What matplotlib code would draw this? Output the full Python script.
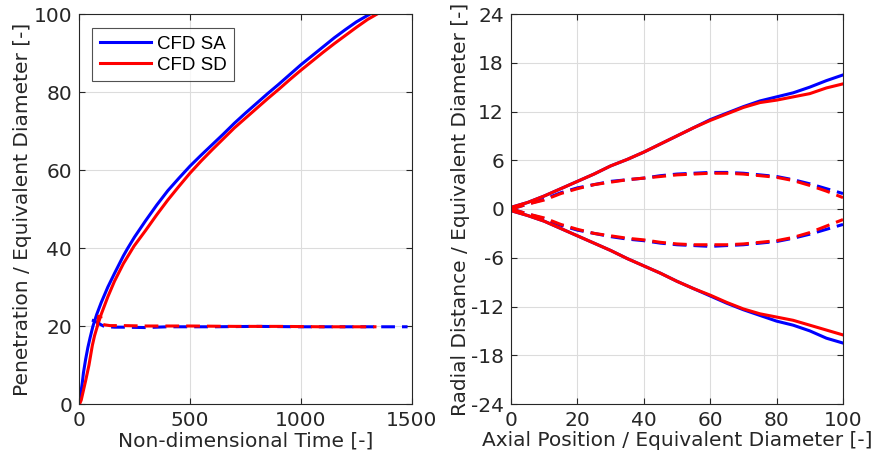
import matplotlib
matplotlib.use("Agg")
import matplotlib.pyplot as plt

# ---------------- data: left panel (penetration vs time) ----------------
t_sa = [0, 5, 10, 15, 20, 30, 40, 50, 63, 80, 100, 130, 160, 200, 218, 250, 300, 350, 400, 450, 500,
        550, 600, 650, 700, 750, 800, 850, 900, 950, 1000, 1050, 1100, 1150, 1200, 1250, 1311]
pen_sa = [0, 1.5, 3.5, 5.5, 8, 11.5, 14.5, 17, 20, 23, 26, 30, 33.5, 38, 39.8, 42.8, 47, 51, 54.7, 57.9, 61,
          63.8, 66.5, 69.2, 72, 74.6, 77.1, 79.6, 82, 84.5, 87, 89.3, 91.6, 93.9, 96, 98, 100]
t_sd = [0, 5, 10, 20, 30, 45, 60, 70, 83, 100, 130, 160, 200, 248, 300, 350, 400, 450, 500,
        550, 600, 650, 700, 750, 800, 850, 900, 950, 1000, 1050, 1100, 1150, 1200, 1250, 1300, 1343]
pen_sd = [0, 0.3, 1, 3.5, 6, 10, 15, 17.5, 20, 23, 27.5, 31.5, 36, 40.5, 44.5, 48.5, 52.3, 55.8, 59.2,
          62.3, 65.2, 68, 70.8, 73.3, 75.8, 78.3, 80.7, 83.2, 85.6, 87.9, 90.2, 92.4, 94.5, 96.6, 98.6, 100]

t_liq_sa = [58, 70, 85, 100, 110, 130, 160, 200, 300, 400, 600, 800, 1000, 1200, 1480]
liq_sa = [21.5, 21.3, 20.8, 20.3, 20.0, 19.8, 19.7, 19.7, 19.6, 19.8, 19.8, 19.9, 19.8, 19.8, 19.8]
t_liq_sd = [83, 86, 88, 98, 101, 104, 115, 140, 200, 300, 500, 700, 900, 1100, 1340]
liq_sd = [20, 21.5, 22.5, 22.4, 21.2, 20.5, 20.3, 20.1, 20.1, 20.0, 20.0, 19.9, 19.9, 19.8, 19.8]

# ---------------- data: right panel (spray boundaries) ----------------
axial = [0, 5, 10, 15, 20, 25, 30, 35, 40, 45, 50, 55, 60, 65, 70, 75, 80, 85, 90, 95, 100]
vap_up_sa = [0.2, 0.8, 1.6, 2.5, 3.4, 4.3, 5.3, 6.1, 7.0, 8.0, 9.0, 10.0, 11.0, 11.8, 12.6, 13.3, 13.8, 14.3, 15.0, 15.8, 16.5]
vap_up_sd = [0.2, 0.8, 1.6, 2.5, 3.4, 4.3, 5.3, 6.1, 7.0, 8.0, 9.0, 10.0, 10.9, 11.7, 12.5, 13.1, 13.4, 13.8, 14.2, 14.9, 15.4]
vap_lo_sa = [-0.2, -0.8, -1.5, -2.4, -3.3, -4.2, -5.1, -6.1, -7.0, -7.9, -8.9, -9.8, -10.7, -11.6, -12.4, -13.1, -13.8, -14.3, -15.0, -15.9, -16.5]
vap_lo_sd = [-0.2, -0.8, -1.5, -2.4, -3.3, -4.2, -5.1, -6.1, -7.0, -7.9, -8.9, -9.8, -10.6, -11.5, -12.3, -12.9, -13.3, -13.7, -14.3, -14.9, -15.5]
liq_up_sa = [0, 0.6, 1.2, 2.0, 2.6, 3.0, 3.4, 3.6, 3.8, 4.1, 4.3, 4.4, 4.5, 4.5, 4.4, 4.2, 4.0, 3.6, 3.1, 2.5, 1.9]
liq_up_sd = [0, 0.6, 1.1, 1.9, 2.5, 3.0, 3.3, 3.6, 3.8, 4.0, 4.2, 4.3, 4.4, 4.4, 4.3, 4.1, 3.9, 3.5, 2.9, 2.2, 1.4]
liq_lo_sa = [0, -0.6, -1.2, -2.0, -2.6, -3.0, -3.4, -3.7, -3.9, -4.2, -4.4, -4.5, -4.6, -4.5, -4.4, -4.2, -4.0, -3.6, -3.1, -2.5, -1.9]
liq_lo_sd = [0, -0.6, -1.1, -1.9, -2.5, -3.0, -3.3, -3.6, -3.8, -4.1, -4.3, -4.4, -4.4, -4.4, -4.3, -4.1, -3.9, -3.5, -2.9, -2.1, -1.3]

labels = ["CFD SA", "CFD SD"]
colors = ["#0000ff", "#ff0000"]

plt.rcParams['font.family'] = ['DejaVu Sans']
plt.rcParams['axes.unicode_minus'] = False
txt = "#262626"

fig = plt.figure(figsize=(8.81, 4.68), dpi=100)
ax1 = fig.add_axes([79/881, 1-404/468, (412-79)/881, 390/468])
ax2 = fig.add_axes([511/881, 1-404/468, (843-511)/881, 390/468])

lw = 2.2
dash = (4.5, 2.3)
ax1.plot(t_sa, pen_sa, color=colors[0], lw=lw, label=labels[0])
ax1.plot(t_sd, pen_sd, color=colors[1], lw=lw, label=labels[1])
ax1.plot(t_liq_sa, liq_sa, color=colors[0], lw=lw, dashes=dash)
ax1.plot(t_liq_sd, liq_sd, color=colors[1], lw=lw, dashes=dash)
ax1.set_xlim(0, 1500)
ax1.set_ylim(0, 100)
ax1.set_xticks([0, 500, 1000, 1500])
ax1.set_yticks([0, 20, 40, 60, 80, 100])
ax1.set_xlabel("Non-dimensional Time [-]")
ax1.set_ylabel("Penetration / Equivalent Diameter [-]")
leg = ax1.legend(loc="upper left", bbox_to_anchor=(13/333, 1-14/390),
                 prop={'family': 'Liberation Sans', 'size': 13.5},
                 frameon=True, fancybox=False, edgecolor=txt, handlelength=2.75,
                 borderpad=0.4, labelspacing=0.22, handletextpad=0.3, borderaxespad=0)
leg.get_frame().set_linewidth(0.8)
for t in leg.get_texts():
    t.set_color("black")

ax2.plot(axial, vap_up_sa, color=colors[0], lw=lw)
ax2.plot(axial, vap_lo_sa, color=colors[0], lw=lw)
ax2.plot(axial, liq_up_sa, color=colors[0], lw=lw, dashes=dash)
ax2.plot(axial, liq_lo_sa, color=colors[0], lw=lw, dashes=dash)
ax2.plot(axial, vap_up_sd, color=colors[1], lw=lw)
ax2.plot(axial, vap_lo_sd, color=colors[1], lw=lw)
ax2.plot(axial, liq_up_sd, color=colors[1], lw=lw, dashes=dash)
ax2.plot(axial, liq_lo_sd, color=colors[1], lw=lw, dashes=dash)
ax2.set_xlim(0, 100)
ax2.set_ylim(-24, 24)
ax2.set_xticks([0, 20, 40, 60, 80, 100])
ax2.set_yticks(list(range(-24, 25, 6)))
ax2.set_xlabel("Axial Position / Equivalent Diameter [-]")
ax2.set_ylabel("Radial Distance / Equivalent Diameter [-]")

for ax in (ax1, ax2):
    ax.grid(True, color="#dcdcdc", lw=0.8)
    ax.set_axisbelow(True)
    for s in ax.spines.values():
        s.set_color(txt)
        s.set_linewidth(0.8)
    ax.tick_params(direction="in", top=True, right=True, colors=txt,
                   labelsize=14.5, length=4, width=0.8, pad=5)
    ax.xaxis.label.set_color(txt)
    ax.yaxis.label.set_color(txt)
    ax.xaxis.label.set_size(14.5)
    ax.yaxis.label.set_size(14.5)
    ax.xaxis.labelpad = 1
    ax.yaxis.labelpad = 1

fig.savefig("out.png", dpi=100)
